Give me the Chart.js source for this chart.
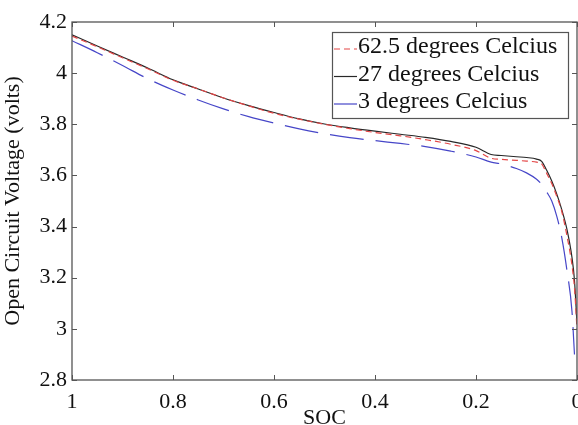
<!DOCTYPE html>
<html>
<head>
<meta charset="utf-8">
<script src="https://cdn.jsdelivr.net/npm/chart.js@4"></script>
<style>
  html, body { margin: 0; padding: 0; background: #fff; overflow: hidden; }
  #wrap { width: 578px; height: 425px; overflow: hidden; }
</style>
</head>
<body>
<div id="wrap"><canvas id="ocv" width="578" height="431"></canvas></div>
<script>
// state of charge, shared by the three curves
var soc = [1, 0.95, 0.9, 0.85, 0.8, 0.75, 0.7, 0.65, 0.6, 0.55, 0.5, 0.45, 0.4, 0.35, 0.3,
  0.25, 0.2, 0.17, 0.15, 0.12, 0.1, 0.08, 0.07, 0.06, 0.05, 0.04, 0.03, 0.02, 0.01, 0.005, 0];

// open circuit voltage (volts)
var v62 = [4.145, 4.103, 4.06, 4.017, 3.972, 3.938, 3.903, 3.872, 3.843, 3.82, 3.8, 3.783, 3.768, 3.755, 3.74,
  3.722, 3.697, 3.667, 3.663, 3.659, 3.656, 3.652, 3.645, 3.608, 3.568, 3.518, 3.458, 3.365, 3.25, 3.16, 3.0];
var v27 = [4.15, 4.106, 4.063, 4.02, 3.974, 3.938, 3.903, 3.873, 3.846, 3.821, 3.801, 3.786, 3.773, 3.761, 3.749,
  3.733, 3.71, 3.682, 3.678, 3.673, 3.67, 3.664, 3.655, 3.62, 3.578, 3.527, 3.465, 3.39, 3.28, 3.19, 3.02];
var v3 = [4.127, 4.08, 4.03, 3.978, 3.934, 3.895, 3.86, 3.83, 3.805, 3.782, 3.763, 3.748, 3.736, 3.725, 3.713,
  3.695, 3.672, 3.652, 3.645, 3.627, 3.61, 3.585, 3.565, 3.535, 3.5, 3.44, 3.355, 3.23, 3.07, 2.9, null];

var legendLabels = ['62.5 degrees Celcius', '27 degrees Celcius', '3 degrees Celcius'];
var xTicks = [1, 0.8, 0.6, 0.4, 0.2, 0];
var yTicks = [2.8, 3, 3.2, 3.4, 3.6, 3.8, 4, 4.2];

var serif = '"Liberation Serif", "DejaVu Serif", serif';

function punti(valori) {
  var out = [];
  for (var i = 0; i < soc.length; i++) {
    if (valori[i] !== null) out.push({ x: soc[i], y: valori[i] });
  }
  return out;
}

// box frame + inward ticks, like matlab
var cornice = {
  id: 'cornice',
  afterDatasetsDraw: function (chart) {
    var ctx = chart.ctx, a = chart.chartArea;
    var sx = chart.scales.x, sy = chart.scales.y;
    ctx.save();
    ctx.strokeStyle = '#555';
    ctx.lineWidth = 1.3;
    ctx.strokeRect(a.left, a.top, a.right - a.left, a.bottom - a.top);
    ctx.lineWidth = 1;
    ctx.beginPath();
    xTicks.forEach(function (t) {
      var px = Math.round(sx.getPixelForValue(t)) + 0.5;
      ctx.moveTo(px, a.bottom); ctx.lineTo(px, a.bottom - 5);
      ctx.moveTo(px, a.top); ctx.lineTo(px, a.top + 5);
    });
    yTicks.forEach(function (t) {
      var py = Math.round(sy.getPixelForValue(t)) + 0.5;
      ctx.moveTo(a.left, py); ctx.lineTo(a.left + 5, py);
      ctx.moveTo(a.right, py); ctx.lineTo(a.right - 5, py);
    });
    ctx.stroke();

    // legend box
    var bx = 332, by = 32, bw = 236, bh = 86;
    ctx.fillStyle = '#fff';
    ctx.fillRect(bx, by, bw, bh);
    ctx.strokeStyle = '#555';
    ctx.lineWidth = 1.2;
    ctx.strokeRect(bx + 0.5, by + 0.5, bw, bh);
    ctx.font = '24px ' + serif;
    ctx.textBaseline = 'middle';
    ctx.fillStyle = '#111';
    chart.data.datasets.forEach(function (ds, i) {
      var ry = 47 + i * 27.5;
      ctx.strokeStyle = ds.borderColor;
      ctx.lineWidth = 1.2;
      ctx.setLineDash(i === 0 ? [6, 4] : []);
      ctx.beginPath();
      ctx.moveTo(334, ry + 2); ctx.lineTo(357, ry + 2);
      ctx.stroke();
      ctx.setLineDash([]);
      ctx.fillText(legendLabels[i], 358, ry);
    });
    ctx.restore();
  }
};

var grafico = new Chart(document.getElementById('ocv').getContext('2d'), {
  type: 'line',
  data: {
    datasets: [{
      label: legendLabels[0],
      data: punti(v62),
      borderColor: 'rgb(228, 70, 70)',
      borderWidth: 1.2,
      borderDash: [6, 4]
    }, {
      label: legendLabels[1],
      data: punti(v27),
      borderColor: 'rgb(40, 40, 40)',
      borderWidth: 1.2
    }, {
      label: legendLabels[2],
      data: punti(v3),
      borderColor: 'rgb(70, 70, 200)',
      borderWidth: 1.2,
      borderDash: [34, 12]
    }]
  },
  options: {
    responsive: false,
    animation: false,
    cubicInterpolationMode: 'monotone',
    pointRadius: 0,
    layout: { padding: { top: 22, right: 1, left: 0, bottom: 0 } },
    plugins: { legend: { display: false }, tooltip: { enabled: false } },
    scales: {
      x: {
        type: 'linear',
        reverse: true,
        min: 0,
        max: 1,
        afterBuildTicks: function (s) { s.ticks = xTicks.map(function (v) { return { value: v }; }); },
        afterFit: function (s) { s.height = 51; s.paddingRight = 0; s.paddingLeft = 0; },
        grid: { display: false, drawTicks: false },
        border: { display: false },
        ticks: {
          padding: 9,
          color: '#111',
          font: { family: serif, size: 22 },
          maxRotation: 0,
          autoSkip: false,
          callback: function (v) { return String(v); }
        },
        title: {
          display: true,
          text: 'SOC',
          color: '#111',
          padding: 0,
          font: { family: serif, size: 22 }
        }
      },
      y: {
        min: 2.8,
        max: 4.2,
        afterBuildTicks: function (s) { s.ticks = yTicks.map(function (v) { return { value: v }; }); },
        afterFit: function (s) { s.width = 72; },
        grid: { display: false, drawTicks: false },
        border: { display: false },
        ticks: {
          padding: 5,
          color: '#111',
          font: { family: serif, size: 22 },
          autoSkip: false,
          callback: function (v) { return String(Math.round(v * 10) / 10); }
        },
        title: {
          display: true,
          text: 'Open Circuit Voltage (volts)',
          color: '#111',
          padding: 0,
          font: { family: serif, size: 22 }
        }
      }
    }
  },
  plugins: [cornice]
});
</script>
</body>
</html>
